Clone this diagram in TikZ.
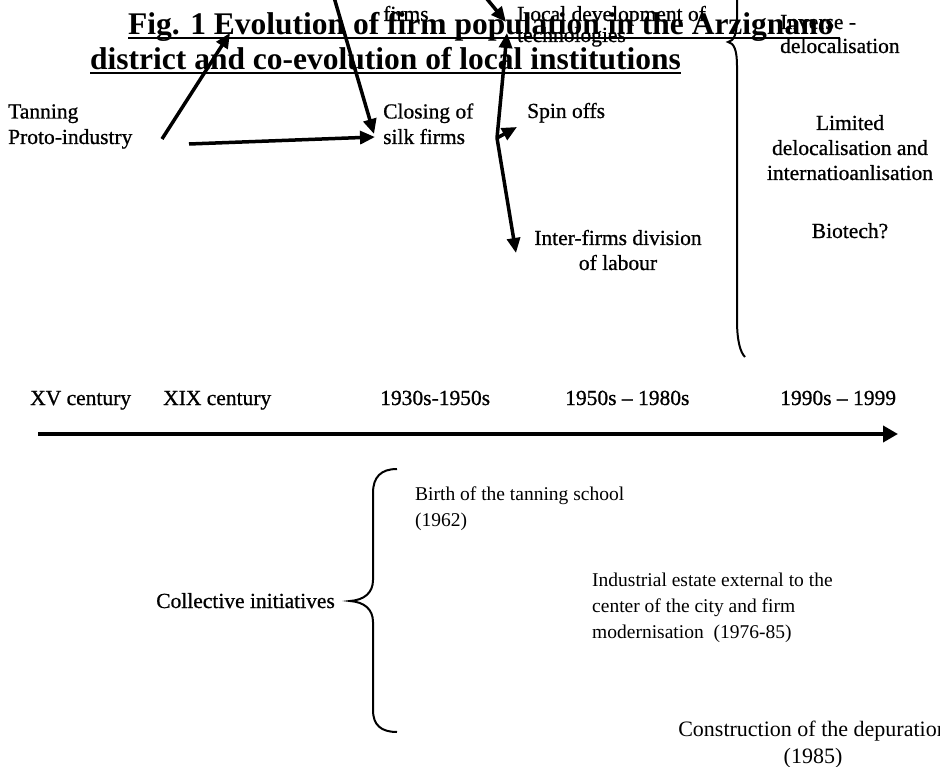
\documentclass[tikz,border=0pt]{standalone}
\usepackage{fontspec}
\setmainfont{Liberation Serif}
\newfontfamily\heavyrm{Liberation Serif}[FakeBold=0.8,Ligatures=TeX]
\usetikzlibrary{arrows.meta}

\tikzset{
  lbl/.style={inner sep=0pt, font=\heavyrm\fontsize{21.5}{25.5}\selectfont},
  inst/.style={inner sep=0pt, align=left, font=\fontsize{19.5}{26}\selectfont},
  arr/.style={line width=3.5pt, -{Triangle[length=15pt,width=13pt]}},
  brace/.style={line width=2pt},
  uline/.style={line width=2.2pt},
}

\begin{document}
\begin{tikzpicture}[x=1pt,y=-1pt]
  \fill[white] (0,0) rectangle (940,767);
  \useasboundingbox (0,0) rectangle (940,767);
  % firm population, upper half (base = last line)
  \node (firmsT) at (383,21) [lbl,anchor=base west]{firms};
  \node (localdev) at (517,42) [lbl,anchor=base west,align=left,font=\heavyrm\fontsize{21.5}{21}\selectfont]{Local development of\\technologies};
  \node (tanning) at (8,144) [lbl,anchor=base west,align=left]{Tanning\\Proto-industry};
  \node (closing) at (383,144) [lbl,anchor=base west,align=left]{Closing of\\silk firms};
  \node (spin) at (527,118) [lbl,anchor=base west]{Spin offs};
  \node (interfirms) at (618,270) [lbl,anchor=base,align=center,font=\heavyrm\fontsize{21.5}{25}\selectfont]{Inter-firms division\\of labour};
  \node (inverse) at (780,53) [lbl,anchor=base west,align=left,font=\heavyrm\fontsize{21.5}{24}\selectfont]{Inverse -\\delocalisation};
  \node (limited) at (850,180) [lbl,anchor=base,align=center,font=\heavyrm\fontsize{21.5}{25}\selectfont]{Limited\\delocalisation and\\internatioanlisation};
  \node (biotech) at (850,238) [lbl,anchor=base]{Biotech?};

  % title
  \node (title1) at (128,35) [anchor=base west,inner sep=0pt,font=\bfseries\fontsize{31.5}{36}\selectfont]{Fig. 1 Evolution of firm population in the Arzignano};
  \node (title2) at (90,70) [anchor=base west,inner sep=0pt,font=\bfseries\fontsize{31.5}{36}\selectfont]{district and co-evolution of local institutions};
  \draw[uline] ([yshift=-3pt]title1.base west) -- ([yshift=-3pt,xshift=6pt]title1.base east);
  \draw[uline] ([yshift=-3pt]title2.base west) -- ([yshift=-3pt]title2.base east);

  % arrows
  \coordinate (tanOut) at (162,139);
  \coordinate (tanUp) at (230,33);
  \coordinate (protoOut) at (189,144);
  \coordinate (silkIn) at (375,137);
  \coordinate (fromTop) at (326,-30);
  \coordinate (closeIn) at (374,134);
  \coordinate (fromTopB) at (463,-30);
  \coordinate (localIn) at (506,22);
  \coordinate (split) at (497,138);
  \coordinate (localUp) at (507,33);
  \coordinate (spinIn) at (517,127);
  \coordinate (interIn) at (516,253);
  \draw[arr] (tanOut) -- (tanUp);
  \draw[arr] (protoOut) -- (silkIn);
  \draw[arr] (fromTop) -- (closeIn);
  \draw[arr] (fromTopB) -- (localIn);
  \draw[arr] (split) -- (localUp);
  \draw[arr] (split) -- (spinIn);
  \draw[arr] (split) -- (interIn);

  % right brace
  \draw[brace] (745,-273) .. controls (740,-265) and (737,-250) .. (737,-230) -- (737,18)
    .. controls (737,34) and (734,41) .. (728,42)
    .. controls (734,43) and (737,50) .. (737,66) -- (737,320)
    .. controls (737,340) and (740,352) .. (745,357);

  % time line
  \node (t15) at (30,405) [lbl,anchor=base west]{XV century};
  \node (t19) at (163,405) [lbl,anchor=base west]{XIX century};
  \node (t30) at (380,405) [lbl,anchor=base west]{1930s-1950s};
  \node (t50) at (565,405) [lbl,anchor=base west]{1950s -- 1980s};
  \node (t90) at (780,405) [lbl,anchor=base west]{1990s -- 1999};
  \coordinate (tlStart) at (38,434);
  \coordinate (tlEnd) at (898,434);
  \draw[line width=4pt,-{Triangle[length=15pt,width=16pt]}] (tlStart) -- (tlEnd);

  % collective initiatives
  \node (collective) at (335,608) [lbl,anchor=base east]{Collective initiatives};
  \draw[brace] (397,469) .. controls (381,469) and (373,477) .. (373,493) -- (373,580)
    .. controls (373,593) and (364,600) .. (350,601)
    .. controls (364,602) and (373,609) .. (373,622) -- (373,710)
    .. controls (373,725) and (381,732) .. (397,732);
  \node (birth) at (415,526) [inst,anchor=base west]{Birth of the tanning school\\(1962)};
  \node (estate) at (592,638) [inst,anchor=base west]{Industrial estate external to the\\center of the city and firm\\modernisation\ \ (1976-85)};
  \node (depur) at (813,763) [inst,anchor=base,align=center,font=\fontsize{22}{27}\selectfont]{Construction of the depuration\\(1985)};
\end{tikzpicture}
\end{document}
